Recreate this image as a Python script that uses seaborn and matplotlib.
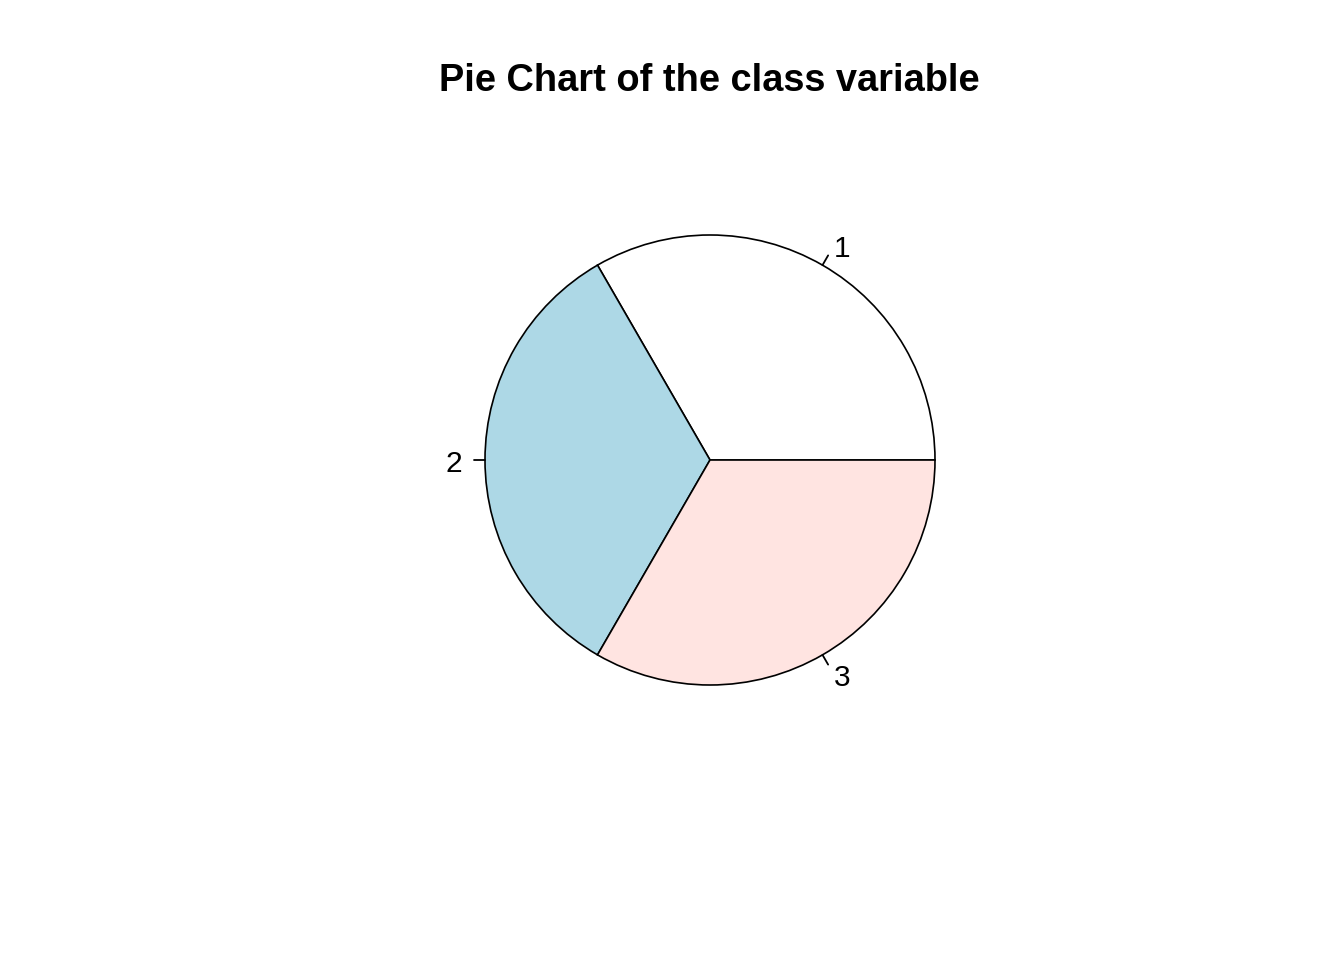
import numpy as np
import matplotlib
matplotlib.use("Agg")
import matplotlib.pyplot as plt
import matplotlib.transforms as mtransforms
import seaborn as sns

categories = ["1", "2", "3"]
values = [1, 1, 1]
colors = ["white", "lightblue", "mistyrose"]
title = "Pie Chart of the class variable"

sns.set_theme(style="white")
plt.rcParams["font.family"] = ["Liberation Sans", "DejaVu Sans"]

fig = plt.figure(figsize=(13.44, 9.6), dpi=100)
ax = fig.add_axes([372.5 / 1344, 162.5 / 960, 675 / 1344, 675 / 960])

ax.pie(values, colors=colors, startangle=0, counterclock=True,
       radius=1.0, center=(0, 0), frame=True,
       wedgeprops=dict(edgecolor="black", linewidth=1.2))
ax.set_xlim(-1.5, 1.5)
ax.set_ylim(-1.5, 1.5)
ax.set_aspect("equal")
ax.axis("off")

label_tr = mtransforms.offset_copy(ax.transData, fig=fig, x=0, y=-11.5, units="dots")
total = sum(values)
cum = np.cumsum([0] + values)
for i, lab in enumerate(categories):
    mid = 2 * np.pi * (cum[i] + cum[i + 1]) / 2 / total
    x, y = np.cos(mid), np.sin(mid)
    ax.plot([x, 1.05 * x], [y, 1.05 * y], color="black", linewidth=1.3)
    ax.text(1.1 * x, 1.1 * y, lab, ha="left" if x >= 0 else "right",
            va="baseline", fontsize=21.5, color="black", transform=label_tr)

fig.text(709.5 / 1344, 1 - 91 / 960, title, ha="center", va="baseline",
         fontsize=27.4, fontweight="bold", color="black")

fig.savefig("out.png", dpi=100, facecolor="white")
